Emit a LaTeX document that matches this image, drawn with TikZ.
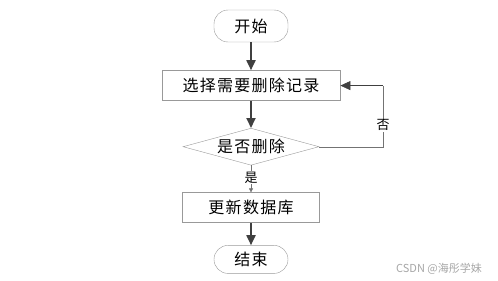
\documentclass[tikz,border=0pt]{standalone}
\usepackage{fontspec}
\setmainfont{Noto Sans CJK SC}
\usetikzlibrary{positioning,arrows.meta,shapes.geometric,calc}

\begin{document}
\begin{tikzpicture}[
    x=1pt, y=1pt,
    node distance=27pt,
    font=\fontsize{16}{18}\selectfont\addfontfeature{LetterSpace=8},
    terminal/.style={
        draw=gray!80,
        rectangle,
        rounded corners=14pt,
        minimum width=74pt,
        minimum height=32pt,
        align=center
    },
    box/.style={
        draw=gray!80,
        line width=0.8pt,
        rectangle,
        minimum height=30pt,
        align=center
    },
    decision/.style={
        draw=gray!80,
        diamond,
        aspect=3.7,
        inner sep=0pt,
        minimum width=136pt,
        minimum height=37pt
    },
    arrow/.style={-{Triangle[length=10pt,width=9pt]}, line width=1.8pt, black!75},
    thinarrow/.style={-{Triangle[length=4pt,width=4pt]}, thin, gray!90!black},
    lbl/.style={fill=white, inner sep=1pt, font=\fontsize{13}{15}\selectfont}
]
\useasboundingbox (0,0) rectangle (498,-281);

\node[terminal] (start) at (251,-26) {开始};

\node[box, minimum width=178pt, below=28pt of start] (select) {选择需要删除记录};

\node[decision, below=of select] (ask) {是否删除};

\node[box, minimum width=137pt, below=of ask] (update) {更新数据库};

\node[terminal, minimum height=28pt, below=22pt of update] (stop) {结束};

\coordinate (loop) at ([xshift=64pt]ask.east);
\coordinate (back) at (loop |- select);

\draw[arrow] (start) -- (select);
\draw[arrow] (select) -- (ask);
\draw[thinarrow] (ask) -- (update);
\node[lbl] (yes) at ($(ask.south)!0.45!(update.north)$) {是};
\draw[arrow] (update) -- (stop);
\draw[thin, gray!90!black] (ask.east) -- (loop) -- (back);
\node[lbl] (no) at ($(loop)!0.35!(back)$) {否};
\draw[arrow, line width=0.6pt] (back) -- (select.east);

\node[text=gray!70, font=\fontsize{11}{13}\selectfont] (mark) at (439,-269) {CSDN @海彤学妹};

\end{tikzpicture}
\end{document}
